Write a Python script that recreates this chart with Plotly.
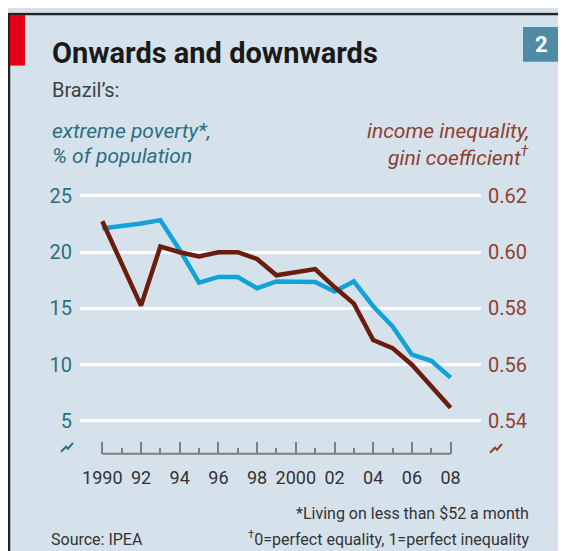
import plotly.graph_objects as go

# ---------------- data ----------------
years = list(range(1990, 2009))
poverty = [22.1, 22.3, 22.55, 22.85, 20.2, 17.3, 17.8, 17.8, 16.8, 17.4,
           17.35, 17.35, 16.5, 17.4, 15.2, 13.4, 10.9, 10.35, 8.85]
gini = [0.611, 0.596, 0.581, 0.602, 0.600, 0.5985, 0.600, 0.600, 0.5976, 0.5918,
        0.593, 0.594, 0.5876, 0.5817, 0.5688, 0.5659, 0.560, 0.5523, 0.5447]

left_ticks = [5, 10, 15, 20, 25]
right_ticks = [0.54, 0.56, 0.58, 0.60, 0.62]
right_ticktext = ["0.54", "0.56", "0.58", "0.60", "0.62"]
x_major = [1990, 1992, 1994, 1996, 1998, 2000, 2002, 2004, 2006, 2008]
x_labels = ["1990", "92", "94", "96", "98", "2000", "02", "04", "06", "08"]
x_minor = [1991, 1993, 1995, 1997, 1999, 2001, 2003, 2005, 2007]

# ---------------- layout helpers ----------------
# The page body has an 8px margin, so the figure starts at (8, 8) in the window.
OX, OY = 8, 8
W, H = 566 - OX, 551 - OY
def px(x):
    return (x - OX) / W
def py(y):
    return 1 - (y - OY) / H

BG = "#d6e2eb"
TEAL = "#2c6e83"
BROWN = "#8e3f30"
BLUE_LINE = "#12a2d8"
BROWN_LINE = "#6b1d0d"
FONT = "Roboto"

fig = go.Figure()
fig.add_trace(go.Scatter(x=years, y=poverty, mode="lines",
                         line=dict(color=BLUE_LINE, width=4.5), yaxis="y",
                         hoverinfo="skip", showlegend=False))
fig.add_trace(go.Scatter(x=years, y=gini, mode="lines",
                         line=dict(color=BROWN_LINE, width=4.5), yaxis="y2",
                         hoverinfo="skip", showlegend=False))

shapes = [
    # white strip above the panel
    dict(type="rect", xref="paper", yref="paper", x0=0, x1=1, y0=py(10), y1=1,
         fillcolor="white", line=dict(width=0), layer="below"),
    # panel background
    dict(type="rect", xref="paper", yref="paper", x0=0, x1=1, y0=0, y1=py(10),
         fillcolor=BG, line=dict(width=0), layer="below"),
    # borders
    dict(type="line", xref="paper", yref="paper", x0=0, x1=1, y0=py(10), y1=py(10),
         line=dict(color="#222222", width=2.5)),
    dict(type="line", xref="paper", yref="paper", x0=px(9), x1=px(9), y0=0, y1=py(10),
         line=dict(color="#222222", width=2.5)),
    # red tab
    dict(type="rect", xref="paper", yref="paper", x0=px(10), x1=px(25), y0=py(62), y1=py(11),
         fillcolor="#e3001b", line=dict(width=0)),
    # number box
    dict(type="rect", xref="paper", yref="paper", x0=px(523), x1=px(559), y0=py(58), y1=py(23),
         fillcolor="#4f8ba6", line=dict(width=0)),
    # x baseline
    dict(type="line", xref="x", yref="paper", x0=1990, x1=2008, y0=py(453), y1=py(453),
         line=dict(color="#7f7f7f", width=2)),
]

def brk(cx, cy, color):
    pts = [(-6, 6), (-1, 1), (1, 3), (6, -3)]
    d = "M " + " L ".join(f"{px(cx + a)},{py(cy + b)}" for a, b in pts)
    return dict(type="path", xref="paper", yref="paper", path=d,
                line=dict(color=color, width=2))

shapes.append(brk(67, 445, TEAL))
shapes.append(brk(496, 446, BROWN))

annotations = [
    dict(text="<b>Onwards and downwards</b>", x=px(50), y=py(49), xanchor="left", yanchor="middle",
         font=dict(family=FONT, size=29, color="#1a1a1a")),
    dict(text="Brazil’s:", x=px(50), y=py(87), xanchor="left", yanchor="middle",
         font=dict(family=FONT, size=20, color="#404040")),
    dict(text="<b>2</b>", x=px(541), y=py(41), xanchor="center", yanchor="middle",
         font=dict(family=FONT, size=22, color="white")),
    dict(text="<i>extreme poverty*,</i>", x=px(50), y=py(128), xanchor="left", yanchor="middle",
         font=dict(family=FONT, size=21, color=TEAL)),
    dict(text="<i>% of population</i>", x=px(50), y=py(153), xanchor="left", yanchor="middle",
         font=dict(family=FONT, size=21, color=TEAL)),
    dict(text="<i>income inequality,</i>", x=px(531), y=py(128), xanchor="right", yanchor="middle",
         font=dict(family=FONT, size=21, color=BROWN)),
    dict(text="<i>gini coefficient<sup>†</sup></i>", x=px(531), y=py(153), xanchor="right", yanchor="middle",
         font=dict(family=FONT, size=21, color=BROWN)),
    dict(text="*Living on less than $52 a month", x=px(531), y=py(513), xanchor="right", yanchor="middle",
         font=dict(family=FONT, size=16, color="#333333")),
    dict(text="<sup>†</sup>0=perfect equality, 1=perfect inequality", x=px(531), y=py(538),
         xanchor="right", yanchor="middle", font=dict(family=FONT, size=16, color="#333333")),
    dict(text="Source: IPEA", x=px(49), y=py(539), xanchor="left", yanchor="middle",
         font=dict(family=FONT, size=16, color="#333333")),
]
for a in annotations:
    a.update(xref="paper", yref="paper", showarrow=False)

# axis ranges from pixel calibration
pl, pr, pt, pb = 80, 481, 185, 453
x_per = (450.6 - 102.3) / 18
xr = [1990 - (102.3 - pl) / x_per, 2008 + (pr - 450.6) / x_per]
y_per = (420 - 193.3) / 20
yr = [5 - (pb - 420) / y_per, 25 + (193.3 - pt) / y_per]
y2_per = (420 - 193.3) / 0.08
y2r = [0.54 - (pb - 420) / y2_per, 0.62 + (193.3 - pt) / y2_per]

fig.update_layout(
    width=W, height=H,
    margin=dict(l=0, r=0, t=0, b=0),
    paper_bgcolor=BG,
    plot_bgcolor="rgba(0,0,0,0)",
    shapes=shapes,
    annotations=annotations,
    xaxis=dict(domain=[px(pl), px(pr)], range=xr, showgrid=False, zeroline=False,
               showline=False, tickmode="array", tickvals=x_major, ticktext=x_labels,
               ticks="inside", ticklen=12, tickwidth=1.5, tickcolor="#7f7f7f",
               minor=dict(tickmode="array", tickvals=x_minor, ticks="inside", ticklen=6,
                          tickwidth=1.5, tickcolor="#7f7f7f"),
               tickfont=dict(family=FONT, size=18, color="#333333"),
               ticklabelstandoff=11, fixedrange=True),
    yaxis=dict(domain=[py(pb), py(pt)], range=yr, tickmode="array", tickvals=left_ticks,
               showgrid=True, gridcolor="white", gridwidth=2.5, zeroline=False,
               showline=False, ticks="", ticklabelstandoff=7,
               tickfont=dict(family=FONT, size=20, color=TEAL), fixedrange=True),
    yaxis2=dict(overlaying="y", side="right", range=y2r, tickmode="array",
                tickvals=right_ticks, ticktext=right_ticktext, showgrid=False,
                zeroline=False, showline=False, ticks="", ticklabelstandoff=6,
                tickfont=dict(family=FONT, size=20, color=BROWN), fixedrange=True),
    showlegend=False,
)

fig.write_html("out.html")
